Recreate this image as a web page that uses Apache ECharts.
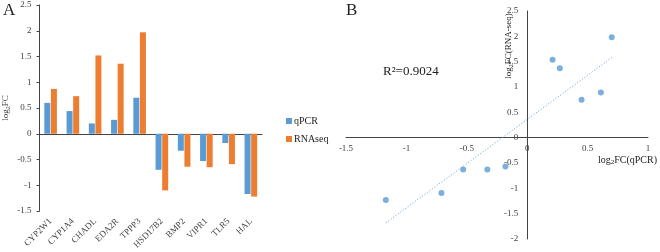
<!DOCTYPE html>
<html>
<head>
<meta charset="utf-8">
<script src="https://cdn.jsdelivr.net/npm/echarts@6/dist/echarts.min.js"></script>
<style>
  html, body { margin: 0; padding: 0; background: #fff; }
  #chart { width: 660px; height: 252px; }
</style>
</head>
<body>
<div id="chart"></div>
<script>
var genes = ['CYP2W1', 'CYP1A4', 'CHADL', 'EDA2R', 'TPPP3', 'HSD17B2', 'BMP2', 'VIPR1', 'TLR5', 'HAL'];
var qpcr = [0.6, 0.44, 0.2, 0.27, 0.7, -0.7, -0.33, -0.53, -0.18, -1.17];
var rnaseq = [0.87, 0.73, 1.52, 1.36, 1.97, -1.1, -0.64, -0.65, -0.59, -1.22];
// scatter points (qPCR, RNA-seq)
var scatterX = [0.70, 0.21, 0.27, 0.45, 0.61, -1.17, -0.71, -0.53, -0.33, -0.18];
var scatterY = [1.98, 1.54, 1.37, 0.75, 0.89, -1.23, -1.09, -0.63, -0.63, -0.57];
// dotted trend line ends
var trendX = [-1.17, 0.70];
var trendY = [-1.68, 1.58];

var serif = 'Liberation Serif';
var txt = '#404040';
var blue = '#5B9BD5', orange = '#ED7D31';

var pts = scatterX.map(function (x, i) { return [x, scatterY[i]]; });
var trend = trendX.map(function (x, i) { return [x, trendY[i]]; });

// panel B grid, axes drawn through zero via offset
var gB = { left: 346, top: 11, width: 302, height: 228 };
var xMinB = -1.5, xMaxB = 1, yMinB = -2, yMaxB = 2.5;
var xZeroOff = -(0 - xMinB) / (xMaxB - xMinB) * gB.width;
var yZeroOff = -(0 - yMinB) / (yMaxB - yMinB) * gB.height;

var chart = echarts.init(document.getElementById('chart'));
var option = {
    animation: false,
    textStyle: { fontFamily: serif },
    grid: [
        { left: 39, top: 5, width: 223, height: 206 },
        gB
    ],
    legend: {
        orient: 'vertical',
        left: 281, top: 111,
        itemWidth: 6, itemHeight: 6, itemGap: 8,
        icon: 'rect',
        data: ['qPCR', 'RNAseq'],
        textStyle: { fontFamily: serif, fontSize: 10, color: '#222', padding: [0, 0, 0, -3] }
    },
    xAxis: [
        {
            gridIndex: 0, type: 'category', data: genes,
            axisLine: { show: false, onZero: false },
            axisTick: { show: false },
            axisLabel: { rotate: 45, margin: 9, fontSize: 9, color: txt, fontFamily: serif, interval: 0 }
        },
        {
            gridIndex: 0, type: 'category', data: genes,
            axisLine: { onZero: true, lineStyle: { color: '#444', width: 1 } },
            axisTick: { show: false },
            axisLabel: { show: false }
        },
        {
            gridIndex: 1, type: 'value', min: xMinB, max: xMaxB, interval: 0.5,
            position: 'bottom', offset: yZeroOff,
            axisLine: { onZero: false, lineStyle: { color: '#444', width: 1 } },
            axisTick: { show: false },
            splitLine: { show: false },
            axisLabel: { fontSize: 9, color: txt, fontFamily: serif, margin: 6 }
        }
    ],
    yAxis: [
        {
            gridIndex: 0, type: 'value', min: -1.5, max: 2.5, interval: 0.5,
            axisLine: { show: true, lineStyle: { color: '#444', width: 1 } },
            axisTick: { show: true, length: 3, lineStyle: { color: '#444' } },
            splitLine: { show: false },
            axisLabel: { fontSize: 9, color: txt, fontFamily: serif, margin: 8 },
            name: '{a|log}{s|2}{a|FC}',
            nameLocation: 'middle', nameGap: 28,
            nameTextStyle: {
                rich: {
                    a: { fontSize: 9, fontFamily: serif, color: txt, lineHeight: 12 },
                    s: { fontSize: 6, fontFamily: serif, color: txt, lineHeight: 12, verticalAlign: 'bottom' }
                }
            }
        },
        {
            gridIndex: 1, type: 'value', min: yMinB, max: yMaxB, interval: 0.5,
            position: 'left', offset: xZeroOff,
            axisLine: { show: true, onZero: false, lineStyle: { color: '#444', width: 1 } },
            axisTick: { show: false },
            splitLine: { show: false },
            axisLabel: { fontSize: 9, color: txt, fontFamily: serif, margin: 9 }
        }
    ],
    series: [
        {
            name: 'qPCR', type: 'bar', xAxisIndex: 0, yAxisIndex: 0,
            data: qpcr, barWidth: 6, barGap: '10%',
            itemStyle: { color: blue }
        },
        {
            name: 'RNAseq', type: 'bar', xAxisIndex: 0, yAxisIndex: 0,
            data: rnaseq, barWidth: 6, barGap: '10%',
            itemStyle: { color: orange }
        },
        {
            name: 'trend', type: 'line', xAxisIndex: 2, yAxisIndex: 1,
            data: trend, symbol: 'none', silent: true,
            lineStyle: { color: blue, width: 1, type: [1, 2] }
        },
        {
            name: 'points', type: 'scatter', xAxisIndex: 2, yAxisIndex: 1,
            data: pts, symbolSize: 6,
            itemStyle: { color: blue }
        }
    ],
    graphic: [
        { type: 'text', left: 3, top: 2, style: { text: 'A', font: '17px "Liberation Serif"', fill: '#222' } },
        { type: 'text', left: 346, top: 2, style: { text: 'B', font: '17px "Liberation Serif"', fill: '#222' } },
        { type: 'text', left: 383, top: 65, style: { text: 'R\u00B2=0.9024', font: '13px "Liberation Serif"', fill: '#222' } },
        {
            type: 'text', x: 657, y: 160,
            style: {
                text: '{a|log}{s|2}{a|FC(qPCR)}',
                align: 'right', verticalAlign: 'middle',
                rich: {
                    a: { fontSize: 10, fontFamily: serif, fill: '#222', lineHeight: 12 },
                    s: { fontSize: 7, fontFamily: serif, fill: '#222', lineHeight: 12, verticalAlign: 'bottom' }
                }
            }
        },
        {
            type: 'text', x: 509, y: 46, rotation: Math.PI / 2,
            style: {
                text: '{a|log}{s|2}{a|FC(RNA-seq)}',
                align: 'center', verticalAlign: 'middle',
                rich: {
                    a: { fontSize: 9, fontFamily: serif, fill: '#222', lineHeight: 11 },
                    s: { fontSize: 6, fontFamily: serif, fill: '#222', lineHeight: 11, verticalAlign: 'bottom' }
                }
            }
        }
    ]
};
chart.setOption(option);
</script>
</body>
</html>
